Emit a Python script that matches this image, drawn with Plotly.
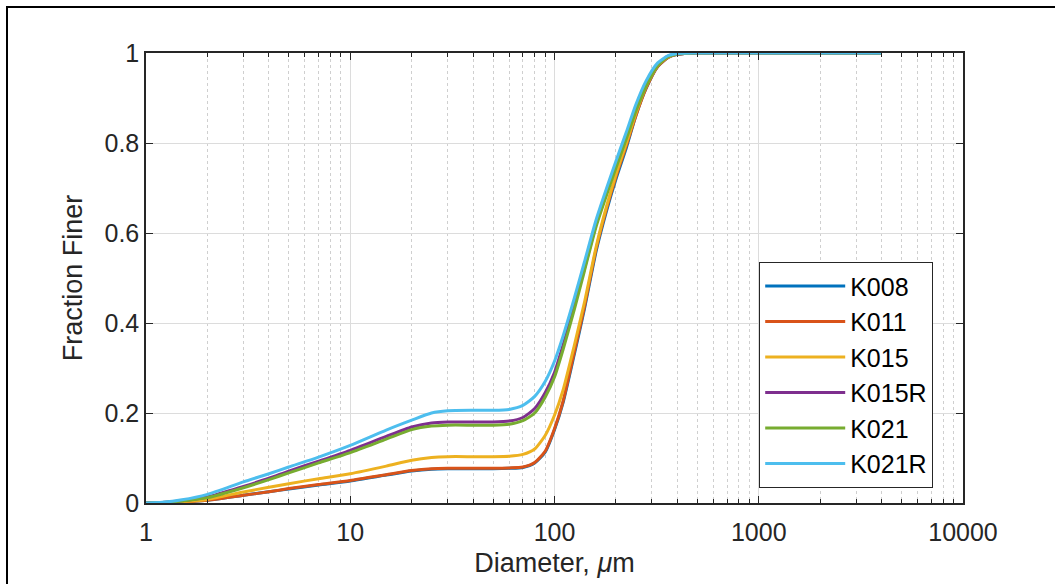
import plotly.graph_objects as go

# ---- data ----
diameter_um = [1, 1.2, 1.5, 2, 3, 4, 5, 7, 10, 15, 20, 25, 30, 40, 50, 60, 70, 80, 90,
               100, 110, 125, 140, 160, 180, 200, 225, 250, 280, 320, 360, 400, 500,
               1000, 2000, 4000]

k008 = [0, 0.0, 0.002, 0.006, 0.017, 0.025, 0.031, 0.040, 0.049, 0.062, 0.071, 0.075, 0.076,
        0.076, 0.076, 0.077, 0.079, 0.089, 0.113, 0.163, 0.222, 0.33, 0.43, 0.56, 0.65,
        0.72, 0.79, 0.86, 0.92, 0.97, 0.99, 0.997, 1, 1, 1, 1]
k011 = [0, 0.0, 0.002, 0.006, 0.017, 0.025, 0.032, 0.041, 0.050, 0.063, 0.072, 0.076, 0.077,
        0.077, 0.077, 0.078, 0.080, 0.090, 0.115, 0.165, 0.225, 0.335, 0.435, 0.565, 0.655,
        0.725, 0.795, 0.86, 0.92, 0.97, 0.99, 0.997, 1, 1, 1, 1]
k015 = [0, 0.0005, 0.003, 0.008, 0.0245, 0.035, 0.043, 0.054, 0.065, 0.082, 0.095, 0.101, 0.103,
        0.103, 0.103, 0.104, 0.108, 0.120, 0.150, 0.195, 0.250, 0.35, 0.445, 0.57, 0.66,
        0.73, 0.80, 0.865, 0.925, 0.972, 0.991, 0.998, 1, 1, 1, 1]
k015r = [0, 0.001, 0.005, 0.0134, 0.037, 0.055, 0.071, 0.093, 0.117, 0.148, 0.169, 0.178, 0.180,
         0.180, 0.180, 0.182, 0.190, 0.210, 0.245, 0.290, 0.350, 0.44, 0.52, 0.62, 0.69,
         0.75, 0.815, 0.875, 0.93, 0.975, 0.993, 0.998, 1, 1, 1, 1]
k021 = [0, 0.001, 0.0045, 0.012, 0.034, 0.052, 0.067, 0.089, 0.112, 0.142, 0.163, 0.171, 0.173,
        0.173, 0.173, 0.175, 0.183, 0.200, 0.235, 0.280, 0.340, 0.43, 0.515, 0.615, 0.685,
        0.745, 0.81, 0.87, 0.925, 0.972, 0.992, 0.998, 1, 1, 1, 1]
k021r = [0, 0.0015, 0.007, 0.0193, 0.047, 0.065, 0.080, 0.102, 0.128, 0.162, 0.184, 0.200, 0.205,
         0.206, 0.206, 0.208, 0.217, 0.237, 0.270, 0.315, 0.370, 0.455, 0.535, 0.63, 0.70,
         0.76, 0.825, 0.885, 0.937, 0.978, 0.994, 0.999, 1, 1, 1, 1]

series_names = ["K008", "K011", "K015", "K015R", "K021", "K021R"]
series_values = [k008, k011, k015, k015r, k021, k021r]
series_colors = ["#0072BD", "#D95319", "#EDB120", "#7E2F8E", "#77AC30", "#4DBEEE"]

x_tickvals = [1, 10, 100, 1000, 10000]
x_ticktext = ["1", "10", "100", "1000", "10000"]
y_tickvals = [0, 0.2, 0.4, 0.6, 0.8, 1]
y_ticktext = ["0", "0.2", "0.4", "0.6", "0.8", "1"]

FONT = "Liberation Sans, Arial, Helvetica, sans-serif"
AX = "#262626"

fig = go.Figure()
for name, vals, col in zip(series_names, series_values, series_colors):
    fig.add_trace(go.Scatter(x=diameter_um, y=vals, name=name, mode="lines",
                             line=dict(color=col, width=3, shape="spline", smoothing=0.6)))

W, H = 1055, 584
ml, mr, mt, mb = 146, 92, 53, 81
pw, ph = W - ml - mr, H - mt - mb

def px_x(p):
    return (p - ml) / pw

def px_y(p):
    return (H - mb - p) / ph

fig.update_layout(
    width=W, height=H,
    margin=dict(l=ml, r=mr, t=mt, b=mb, pad=0),
    paper_bgcolor="white", plot_bgcolor="white",
    font=dict(family=FONT, size=25, color=AX),
    showlegend=True,
    legend=dict(x=px_x(759), y=px_y(262), xanchor="left", yanchor="top",
                bgcolor="white", bordercolor=AX, borderwidth=1.2,
                font=dict(family=FONT, size=25, color="black"),
                itemwidth=80, tracegroupgap=0),
    xaxis=dict(type="log", range=[0, 4],
               tickmode="array", tickvals=x_tickvals, ticktext=x_ticktext,
               ticks="inside", ticklen=7, tickwidth=1.2, tickcolor=AX,
               showline=True, linecolor=AX, linewidth=1.5, mirror="ticks",
               showgrid=True, gridcolor="#dcdcdc", gridwidth=1,
               minor=dict(dtick="D1", ticks="inside", ticklen=4, tickcolor=AX,
                          showgrid=True, gridcolor="#cfcfcf", griddash="dot", gridwidth=1),
               zeroline=False, ticklabelstandoff=6,
               tickfont=dict(size=25, color=AX),
               title=dict(text="Diameter, <i>μ</i>m", font=dict(size=27, color=AX), standoff=8)),
    yaxis=dict(range=[0, 1],
               tickmode="array", tickvals=y_tickvals, ticktext=y_ticktext,
               ticks="inside", ticklen=7, tickwidth=1.2, tickcolor=AX,
               showline=True, linecolor=AX, linewidth=1.5, mirror="ticks",
               showgrid=True, gridcolor="#dcdcdc", gridwidth=1,
               zeroline=False,
               tickfont=dict(size=25, color=AX),
               title=dict(text="Fraction Finer", font=dict(size=27, color=AX), standoff=14)),
)

# outer figure frame (extends beyond the right/bottom edge as in the reference)
fig.add_shape(type="rect", xref="paper", yref="paper",
              x0=px_x(7), x1=px_x(1070), y0=px_y(600), y1=px_y(7),
              line=dict(color="black", width=2), fillcolor="rgba(0,0,0,0)", layer="above")

fig.write_html("out.html", config={"displayModeBar": False},
               post_script="document.body.style.margin='0';document.body.style.overflow='hidden';")
